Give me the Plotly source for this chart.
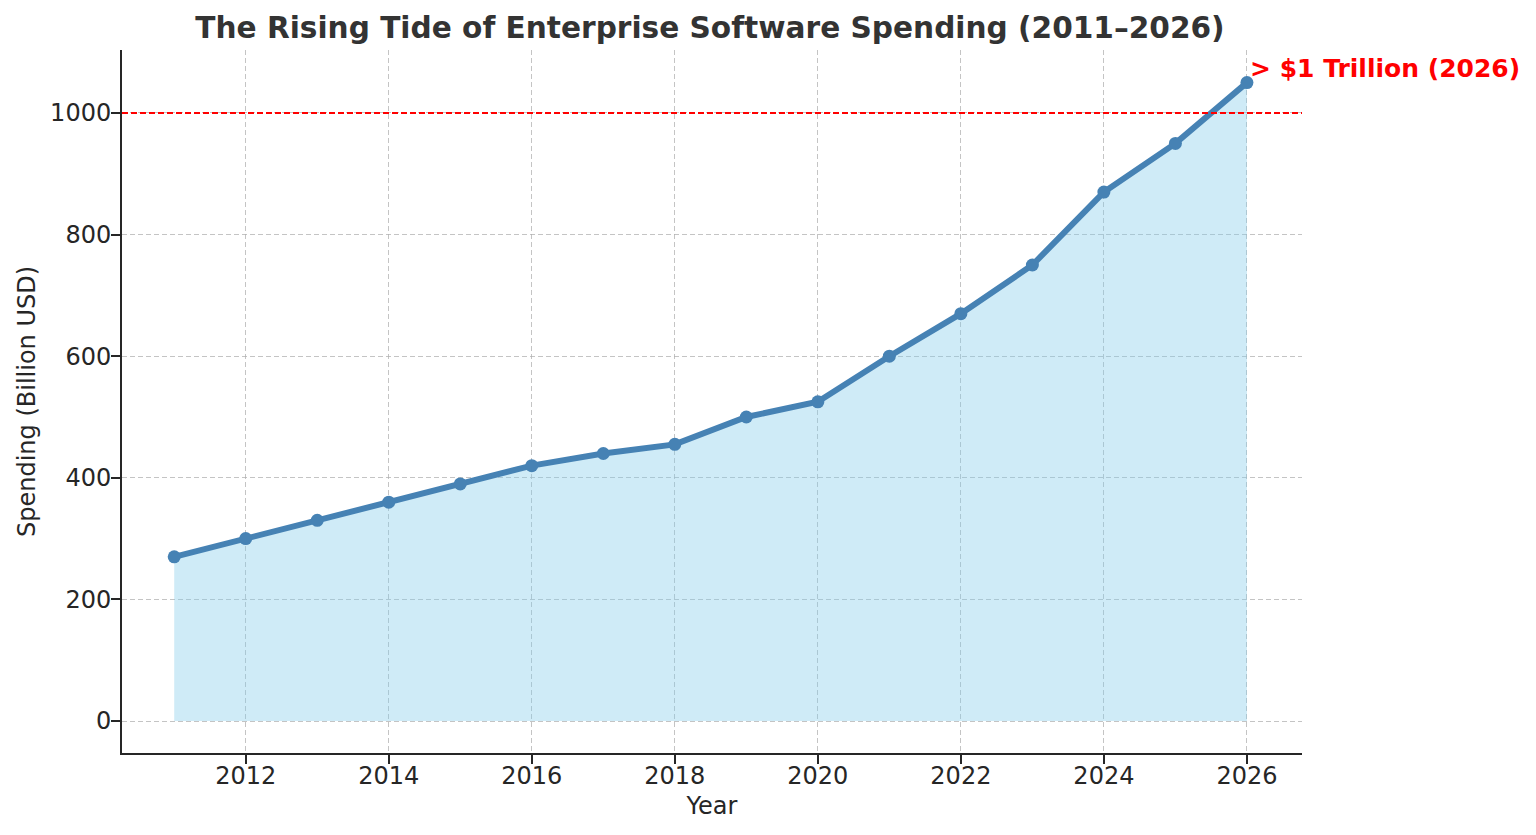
import plotly.graph_objects as go

years = list(range(2011, 2027))
spending = [270, 300, 330, 360, 390, 420, 440, 455, 500, 525, 600, 670, 750, 870, 950, 1050]

x_ticks = list(range(2012, 2027, 2))
y_ticks = list(range(0, 1001, 200))
threshold = 1000

fig = go.Figure()

# shaded area under the curve
fig.add_trace(go.Scatter(
    x=years, y=spending, mode="lines", fill="tozeroy",
    line=dict(color="rgba(135,206,235,0.5)", width=1),
    fillcolor="rgba(135,206,235,0.4)", hoverinfo="skip", showlegend=False))

fig.add_trace(go.Scatter(
    x=years, y=spending, mode="lines+markers",
    line=dict(color="#4682b4", width=6),
    marker=dict(color="#4682b4", size=13),
    showlegend=False))

# $1T threshold line
fig.add_shape(type="line", xref="paper", x0=0, x1=1, yref="y",
              y0=threshold, y1=threshold,
              line=dict(color="red", width=2, dash="6px,3px"))

fig.add_annotation(x=years[-1], y=spending[-1], text="<b>> $1 Trillion (2026)</b>",
                   showarrow=False, xanchor="left", yanchor="middle",
                   xshift=1, yshift=14,
                   font=dict(color="red", size=25, family="DejaVu Sans"))

axis_common = dict(
    showgrid=True, gridcolor="rgba(176,176,176,0.75)", griddash="5px,3px", gridwidth=1,
    showline=True, linecolor="#262626", linewidth=2,
    ticks="outside", ticklen=9, tickwidth=1.8, tickcolor="#262626",
    zeroline=False, tickfont=dict(size=24, color="#262626"),
    title_font=dict(size=24, color="#262626"), automargin=False,
)

fig.update_xaxes(range=[2010.27, 2026.77], tickvals=x_ticks, title_text="Year",
                 title_standoff=8, ticklabelstandoff=-9, **axis_common)
fig.update_yaxes(range=[-52.6, 1103.6], tickvals=y_ticks,
                 title_text="Spending (Billion USD)", title_standoff=8,
                 ticklabelstandoff=-5, **axis_common)

fig.update_layout(
    width=1536, height=835,
    margin=dict(l=114, r=242, t=42, b=90),
    plot_bgcolor="white", paper_bgcolor="white",
    font=dict(family="DejaVu Sans", color="#262626"),
    title=dict(text="<b>The Rising Tide of Enterprise Software Spending (2011–2026)</b>",
               x=0.457, xanchor="center", y=0.977, yanchor="middle",
               font=dict(size=29.6, color="#333333")),
)

fig.write_html("out.html")
